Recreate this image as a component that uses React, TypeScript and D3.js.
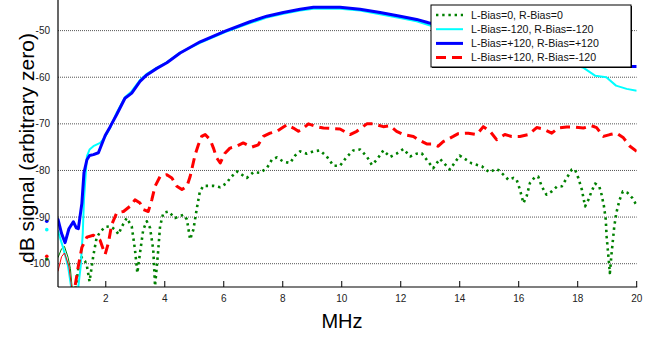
import React, { useRef, useEffect } from 'react';
import * as d3 from 'd3';

type Pt = [number, number]; // [MHz, dB]

const LABELS = [
  'L-Bias=0, R-Bias=0',
  'L-Bias=-120, R-Bias=-120',
  'L-Bias=+120, R-Bias=+120',
  'L-Bias=+120, R-Bias=-120',
];

// L-Bias=0, R-Bias=0
const biasZero: Pt[] = [
  [0, -99], [0.38, -98.7], [0.5, -96.8], [0.6, -96.3], [0.72, -98.6], [0.8, -101], [0.9, -108],
  [1.02, -103.4], [1.08, -100.5], [1.18, -98.6], [1.3, -99.5], [1.36, -100.5], [1.45, -103.8],
  [1.58, -98.2], [1.69, -94.4], [1.81, -93.2], [1.98, -92.1], [2.15, -92.0], [2.32, -92.7],
  [2.43, -93.7], [2.54, -92.1], [2.71, -90.2], [2.88, -92], [2.99, -97], [3.07, -102],
  [3.16, -97.7], [3.27, -92.7], [3.39, -90.9], [3.5, -92.3], [3.61, -97], [3.67, -104.8],
  [3.78, -97], [3.84, -92], [3.95, -89.1], [4.12, -88.8], [4.35, -90.2], [4.63, -89.5],
  [4.75, -90.5], [4.86, -94.8], [4.97, -92.7], [5.08, -88.4], [5.19, -84.5], [5.31, -83.3],
  [5.65, -83.3], [5.88, -83.6], [6.1, -82.7], [6.22, -81.6], [6.44, -80.2], [6.78, -81.6],
  [7.0, -80.4], [7.23, -80.5], [7.46, -79.5], [7.63, -77.7], [7.8, -77.2], [8.02, -78.1],
  [8.25, -78.4], [8.42, -76.8], [8.59, -75.9], [8.81, -76.4], [9.04, -75.9], [9.26, -75.7],
  [9.49, -77.0], [9.72, -79.0], [9.94, -79.0], [10.17, -77.1], [10.39, -75.7], [10.62, -75.5],
  [10.85, -77.0], [11.02, -78.8], [11.19, -77.7], [11.41, -75.7], [11.64, -77.1], [11.86, -76.4],
  [12.09, -75.4], [12.32, -77.0], [12.54, -76.4], [12.71, -76.3], [12.88, -77.7], [13.1, -79.5],
  [13.33, -77.5], [13.67, -79.8], [14.0, -76.8], [14.17, -77.5], [14.41, -78.5], [14.75, -79.1],
  [14.92, -80.0], [15.03, -80.4], [15.2, -79.7], [15.31, -79.9], [15.48, -80.9], [15.65, -82.0],
  [15.82, -81.6], [15.93, -82.0], [16.04, -84.1], [16.16, -87.0], [16.27, -85.5], [16.38, -82.7],
  [16.55, -81.4], [16.66, -81.3], [16.78, -83.4], [16.94, -85.2], [17.12, -84.5], [17.29, -83.5],
  [17.46, -83.4], [17.63, -81.6], [17.8, -79.8], [17.91, -79.8], [18.02, -81.6], [18.14, -84.1],
  [18.25, -87.7], [18.36, -86.3], [18.47, -84.5], [18.59, -82.8], [18.73, -83.4], [18.81, -85.2],
  [18.89, -87.7], [18.95, -90.5], [18.98, -94.1], [19.04, -98.4], [19.09, -102.0], [19.15, -97.7],
  [19.24, -92], [19.31, -89.1], [19.42, -86.3], [19.53, -84.5], [19.69, -84.8], [19.85, -85.9],
  [20, -87.5],
];

// L-Bias=-120, R-Bias=-120
const biasMinus: Pt[] = [
  [0, -92.7], [0.38, -93], [0.55, -96.5], [0.72, -100.5], [0.85, -106], [1.05, -106],
  [1.15, -100.5], [1.22, -93.4], [1.26, -86.3], [1.36, -77.0], [1.45, -75.5], [1.58, -74.8],
  [1.81, -74.1], [1.98, -72.8], [2.15, -70.8], [2.37, -67.6], [2.65, -64.3], [2.88, -63.0],
  [3.16, -60.6], [3.39, -59.3], [3.73, -58.0], [4.07, -56.8], [4.52, -54.7], [5.2, -52.6],
  [6.05, -50.3], [6.89, -48.4], [7.46, -47.2], [8.02, -46.4], [8.59, -45.7], [9.04, -45.3],
  [9.94, -45.3], [10.62, -45.7], [11.3, -46.5], [11.98, -47.3], [12.54, -48.0], [12.94, -48.8],
  [14.35, -51.5], [16.0, -54.0], [17.3, -56.3], [18.2, -58.0], [18.6, -59.7], [18.97, -60.0],
  [19.3, -61.8], [19.66, -62.5], [20, -62.9],
];

// L-Bias=+120, R-Bias=+120
const biasPlus: Pt[] = [
  [0, -90.9], [0.38, -90.5], [0.5, -93.5], [0.62, -95.5], [0.75, -92.5], [0.9, -91],
  [1.0, -92.3], [1.07, -92.5], [1.19, -87], [1.26, -80.5], [1.36, -77.7], [1.45, -76.8],
  [1.58, -76.6], [1.75, -76.2], [1.98, -72.5], [2.15, -70.6], [2.37, -68.0], [2.65, -64.5],
  [2.88, -63.4], [3.16, -60.9], [3.39, -59.5], [3.73, -58.1], [4.07, -56.9], [4.52, -54.8],
  [5.2, -52.4], [6.05, -50.1], [6.89, -48.1], [7.46, -46.9], [8.02, -46.1], [8.59, -45.4],
  [9.04, -45.0], [9.94, -45.0], [10.62, -45.4], [11.3, -46.1], [11.98, -46.9], [12.54, -47.6],
  [12.94, -48.3], [14.35, -50.5], [16.0, -52.8], [17.5, -55], [19.0, -56.8], [19.77, -57.7],
  [20, -57.7],
];

// L-Bias=+120, R-Bias=-120
const biasMixed: Pt[] = [
  [0, -98.4], [0.38, -101.6], [0.5, -98.5], [0.6, -97.7], [0.75, -100.5], [0.82, -104], [0.9, -108],
  [0.96, -104.8], [1.07, -100.5], [1.19, -96.5], [1.36, -94.3], [1.58, -93.9], [1.81, -95],
  [1.92, -97], [1.98, -98.0], [2.09, -95.5], [2.2, -91.6], [2.37, -89.1], [2.6, -88.8],
  [2.82, -87.7], [2.99, -86.3], [3.16, -87.0], [3.27, -88.4], [3.44, -88.8], [3.56, -86.3],
  [3.67, -83.4], [3.84, -81.3], [4.07, -80.9], [4.24, -81.6], [4.41, -83.4], [4.58, -84.1],
  [4.75, -83.4], [4.86, -81.3], [5.03, -76.6], [5.14, -74.5], [5.25, -72.7], [5.37, -72.3],
  [5.54, -73.4], [5.65, -75.2], [5.76, -77.3], [5.88, -78.4], [6.04, -76.3], [6.21, -75.2],
  [6.44, -74.8], [6.66, -74.1], [6.95, -75.0], [7.17, -74.5], [7.34, -72.7], [7.57, -72.0],
  [7.8, -71.6], [7.97, -70.9], [8.14, -70.2], [8.36, -70.9], [8.53, -71.6], [8.7, -70.9],
  [8.87, -70.0], [9.15, -70.6], [9.38, -70.9], [9.94, -71.1], [10.28, -72.3], [10.51, -71.6],
  [10.85, -70.0], [11.07, -70.0], [11.41, -70.6], [11.64, -70.4], [11.86, -71.6], [12.09, -72.3],
  [12.43, -72.7], [12.6, -73.4], [12.88, -74.3], [13.05, -74.3], [13.27, -74.8], [13.44, -73.8],
  [13.78, -72.7], [13.95, -72.1], [14.29, -72.0], [14.58, -72.3], [14.8, -70.6], [15.03, -71.6],
  [15.25, -73.4], [15.53, -72.3], [15.76, -72.7], [16.04, -72.7], [16.33, -72.3], [16.61, -70.8],
  [16.83, -71.1], [17.12, -72.0], [17.34, -70.9], [17.63, -70.7], [17.91, -70.7], [18.19, -70.9],
  [18.47, -70.4], [18.64, -70.8], [18.87, -72.7], [19.09, -72.3], [19.32, -72.0], [19.55, -73.0],
  [19.77, -74.8], [20, -75.9],
];

const X_TICKS = [2, 4, 6, 8, 10, 12, 14, 16, 18, 20];
const Y_TICKS = [-100, -90, -80, -70, -60, -50];

const FONT = '"Liberation Sans", Arial, Helvetica, sans-serif';

export default function App() {
  const svgRef = useRef<SVGSVGElement>(null);

  useEffect(() => {
    const svg = d3.select(svgRef.current);
    svg.selectAll('*').remove();
    if (!svgRef.current) return;

    const width = 656;
    const height = 339;
    svg.attr('width', width).attr('height', height).attr('viewBox', `0 0 ${width} ${height}`);

    // axis starts a little above 0 MHz; the 0 MHz samples fall left of it
    const x = d3.scaleLinear().domain([0.38, 20]).range([58, 636.7]);
    const y = d3.scaleLinear().domain([-105, -40]).range([287, -16]);
    const [x0, x1] = x.range();
    const [y0, y1] = y.range();

    svg.append('defs').append('clipPath').attr('id', 'plot-clip')
      .append('rect')
      .attr('x', x0).attr('y', y1).attr('width', x1 - x0).attr('height', y0 - y1);

    // grid lines (dotted)
    svg.append('g').selectAll('line')
      .data(Y_TICKS)
      .enter()
      .append('line')
      .attr('x1', x0).attr('x2', x1)
      .attr('y1', d => y(d)).attr('y2', d => y(d))
      .attr('stroke', '#555').attr('stroke-width', 1)
      .attr('stroke-dasharray', '1 1');

    const series = [
      { data: biasZero, color: '#008000', width: 2.6, dash: '2.4 3.8', lead: true },
      { data: biasMinus, color: '#00ffff', width: 2, dash: null, lead: false },
      { data: biasPlus, color: '#0000ff', width: 3, dash: null, lead: false },
      { data: biasMixed, color: '#ff0000', width: 3, dash: '10 6', lead: true },
    ];

    const line = d3.line<Pt>().x(d => x(d[0])).y(d => y(d[1]));
    const plot = svg.append('g').attr('clip-path', 'url(#plot-clip)');

    series.forEach(s => {
      if (s.lead) {
        // dense low-frequency part renders as a thin solid line
        plot.append('path')
          .attr('d', line(s.data.filter(d => d[0] <= 0.9)) ?? '')
          .attr('fill', 'none').attr('stroke', s.color).attr('stroke-width', 1);
        plot.append('path')
          .attr('d', line(s.data.filter(d => d[0] >= 0.9)) ?? '')
          .attr('fill', 'none').attr('stroke', s.color).attr('stroke-width', s.width)
          .attr('stroke-dasharray', s.dash as string)
          .attr('stroke-linejoin', 'round');
      } else {
        plot.append('path')
          .attr('d', line(s.data) ?? '')
          .attr('fill', 'none').attr('stroke', s.color).attr('stroke-width', s.width)
          .attr('stroke-linejoin', 'round');
      }
    });

    // the 0 MHz samples show up as lone dots left of the axis
    series.forEach(s => {
      const p = s.data[0];
      svg.append('circle')
        .attr('cx', x(p[0]))
        .attr('cy', y(p[1]))
        .attr('r', 1.8)
        .attr('fill', s.color);
    });

    // axes
    svg.append('line')
      .attr('x1', x0).attr('x2', x0).attr('y1', 0).attr('y2', y0)
      .attr('stroke', '#000').attr('stroke-width', 1.2);
    svg.append('line')
      .attr('x1', x0).attr('x2', x1 + 0.5).attr('y1', y0).attr('y2', y0)
      .attr('stroke', '#000').attr('stroke-width', 1.2);

    X_TICKS.forEach(t => {
      svg.append('line')
        .attr('x1', x(t)).attr('x2', x(t)).attr('y1', y0).attr('y2', y0 - 6)
        .attr('stroke', '#000');
      svg.append('text')
        .attr('x', x(t)).attr('y', 302)
        .attr('text-anchor', 'middle').attr('font-size', '10px').attr('font-family', FONT)
        .attr('fill', '#222')
        .text(t);
    });

    Y_TICKS.forEach(t => {
      svg.append('text')
        .attr('x', 50).attr('y', y(t)).attr('dy', '0.35em')
        .attr('text-anchor', 'end').attr('font-size', '10px').attr('font-family', FONT)
        .attr('fill', '#222')
        .text(t);
    });

    // axis titles
    svg.append('text')
      .attr('x', 342).attr('y', 328)
      .attr('text-anchor', 'middle').attr('font-size', '20px').attr('font-family', FONT)
      .text('MHz');
    svg.append('text')
      .attr('transform', 'translate(26.5,148) rotate(-90)')
      .attr('dy', '0.35em')
      .attr('text-anchor', 'middle').attr('font-size', '21px').attr('font-family', FONT)
      .text('dB signal (arbitrary zero)');

    // legend
    const lg = svg.append('g').attr('transform', 'translate(431,5)');
    lg.append('rect').attr('x', 1).attr('y', 1).attr('width', 200).attr('height', 62).attr('fill', '#000');
    lg.append('rect').attr('x', 0).attr('y', 0).attr('width', 200).attr('height', 62)
      .attr('fill', '#fff').attr('stroke', '#000').attr('stroke-width', 1);

    series.forEach((s, i) => {
      const ry = 10 + i * 14.2;
      lg.append('line')
        .attr('x1', 5).attr('x2', 32).attr('y1', ry).attr('y2', ry)
        .attr('stroke', s.color).attr('stroke-width', s.width)
        .attr('stroke-dasharray', s.dash ?? null);
      lg.append('text')
        .attr('x', 40).attr('y', ry).attr('dy', '0.35em')
        .attr('font-size', '10.6px').attr('font-family', FONT).attr('fill', '#111')
        .text(LABELS[i]);
    });
  }, []);

  return (
    <svg ref={svgRef} style={{ position: 'absolute', left: 0, top: 0, background: '#fff' }} />
  );
}
